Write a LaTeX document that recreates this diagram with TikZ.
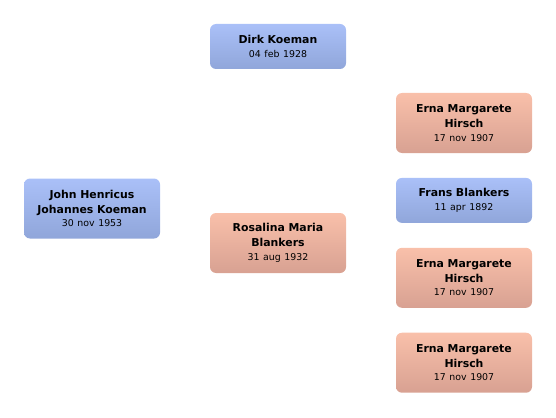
\documentclass[tikz,border=0pt]{standalone}
\usepackage{fontspec}
\setmainfont{DejaVu Sans}
\usetikzlibrary{positioning}

\definecolor{maletop}{HTML}{AAC0F8}
\definecolor{malebot}{HTML}{90A6DA}
\definecolor{femtop}{HTML}{F9C0AA}
\definecolor{fembot}{HTML}{D8A192}

\tikzset{
  person/.style={rectangle, rounded corners=6pt, minimum width=136pt,
                 text width=130pt, align=center, inner sep=0pt,
                 font=\fontsize{10.9}{15}\selectfont},
  male/.style={person, top color=maletop, bottom color=malebot},
  female/.style={person, top color=femtop, bottom color=fembot},
  twoline/.style={minimum height=45pt},
  threeline/.style={minimum height=60pt}
}
\newcommand{\pname}[1]{\textbf{#1}}
\newcommand{\pdate}[1]{{\fontsize{9.4}{12}\selectfont #1}}

\begin{document}
\begin{tikzpicture}[x=1pt, y=-1pt, node distance=24.5pt]
  \useasboundingbox (0,0) rectangle (556,417);

  % proband and parents
  \node[male, threeline] (john) at (92,208.5)
    {\pname{John Henricus}\\\pname{Johannes Koeman}\\[-1.5pt]\pdate{30 nov 1953}};
  \node[male, twoline] (dirk) at (278,46.5)
    {\pname{Dirk Koeman}\\[-1.5pt]\pdate{04 feb 1928}};
  \node[female, threeline] (rosalina) at (278,243)
    {\pname{Rosalina Maria}\\\pname{Blankers}\\[-1.5pt]\pdate{31 aug 1932}};

  % grandparents
  \node[female, threeline] (erna1) at (464,123)
    {\pname{Erna Margarete}\\\pname{Hirsch}\\[-1.5pt]\pdate{17 nov 1907}};
  \node[male, twoline, below=of erna1] (frans)
    {\pname{Frans Blankers}\\[-1.5pt]\pdate{11 apr 1892}};
  \node[female, threeline, below=of frans] (erna2)
    {\pname{Erna Margarete}\\\pname{Hirsch}\\[-1.5pt]\pdate{17 nov 1907}};
  \node[female, threeline, below=of erna2] (erna3)
    {\pname{Erna Margarete}\\\pname{Hirsch}\\[-1.5pt]\pdate{17 nov 1907}};
\end{tikzpicture}
\end{document}
